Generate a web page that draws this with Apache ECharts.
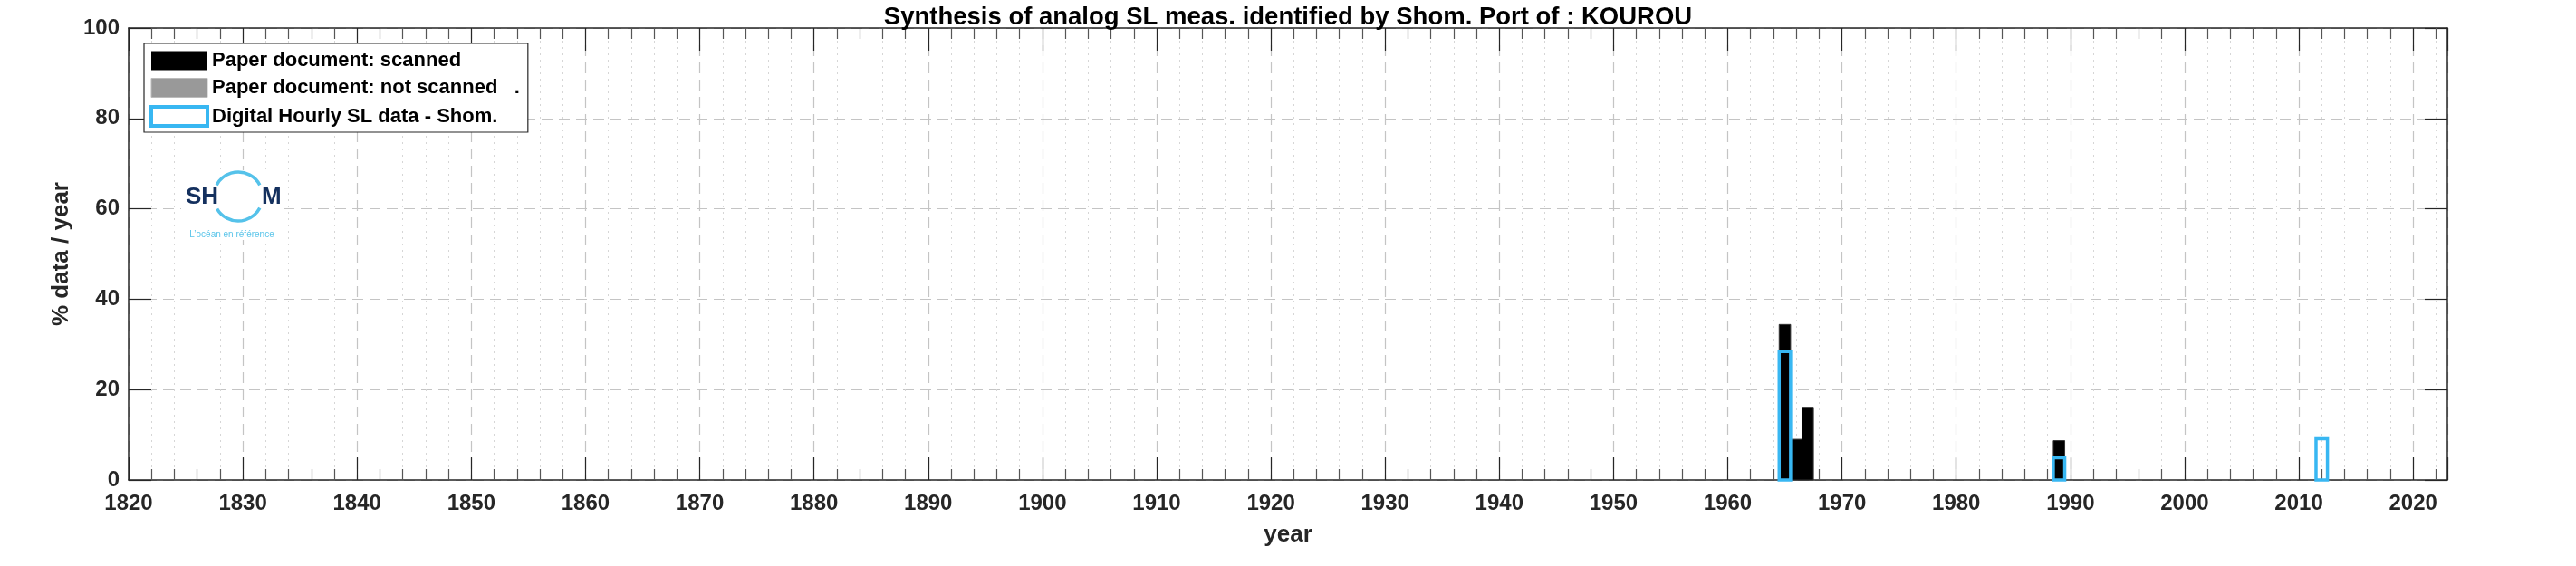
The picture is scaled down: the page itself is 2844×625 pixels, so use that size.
<!DOCTYPE html>
<html>
<head>
<meta charset="utf-8">
<script src="https://cdn.jsdelivr.net/npm/echarts@6/dist/echarts.min.js"></script>
<style>
html,body{margin:0;padding:0;background:#fff;}
#chart{width:2844px;height:625px;}
</style>
</head>
<body>
<div id="chart"></div>
<script>
// ---- data ----
const titleText = 'Synthesis of analog SL meas. identified by Shom. Port of : KOUROU';
const seriesNames = ['Paper document: scanned', 'Paper document: not scanned   .', 'Digital Hourly SL data - Shom.'];
const scannedYears = [1965, 1966, 1967, 1989];
const scannedValues = [34.4, 9.0, 16.1, 8.7];
const notScannedYears = [];
const notScannedValues = [];
const digitalYears = [1965, 1989, 2012];
const digitalValues = [28.4, 4.9, 9.1];
const xRange = [1820, 2023];
const xTickStep = 10;
const yRange = [0, 100];
const yTickStep = 20;

const pairs = (xs, ys) => xs.map((x, i) => [x, ys[i]]);

const FONT = '"Liberation Sans", Arial, sans-serif';
const TXT = '#262626';
const BLUE = '#38b7f2';

function barRender(kind) {
  return function (params, api) {
    const x = api.value(0), v = api.value(1);
    const p0 = api.coord([x - 0.5, v]);
    const p1 = api.coord([x + 0.5, 0]);
    let style;
    if (kind === 'scanned') style = { fill: '#000', stroke: '#333', lineWidth: 1 };
    else if (kind === 'notscanned') style = { fill: '#999', stroke: '#bbb', lineWidth: 1 };
    else style = { fill: 'none', stroke: BLUE, lineWidth: 3.5 };
    return {
      type: 'rect',
      shape: { x: p0[0], y: p0[1], width: p1[0] - p0[0], height: p1[1] - p0[1] },
      style: style
    };
  };
}

const xCommon = {
  type: 'value', min: xRange[0], max: xRange[1], interval: xTickStep,
  axisLine: { show: true, onZero: false, lineStyle: { color: TXT, width: 1.5 } },
  axisTick: { show: true, inside: true, length: 25, lineStyle: { color: TXT, width: 1.2 } },
  minorTick: { show: true, splitNumber: 5, length: 12, lineStyle: { color: '#555', width: 1.2 } }
};
const yCommon = {
  type: 'value', min: yRange[0], max: yRange[1], interval: yTickStep,
  axisLine: { show: true, onZero: false, lineStyle: { color: TXT, width: 1.5 } },
  axisTick: { show: true, inside: true, length: 25, lineStyle: { color: TXT, width: 1.2 } }
};

const option = {
  animation: false,
  backgroundColor: '#fff',
  title: {
    text: titleText, left: 'center', top: 0,
    textStyle: { fontFamily: FONT, fontSize: 27.5, fontWeight: 'bold', color: '#000' }
  },
  grid: { left: 142, right: 142, top: 31, bottom: 95, containLabel: false },
  xAxis: [
    Object.assign({}, xCommon, {
      position: 'bottom',
      name: 'year', nameLocation: 'middle', nameGap: 48,
      nameTextStyle: { fontFamily: FONT, fontSize: 26, fontWeight: 'bold', color: TXT },
      axisLabel: {
        show: true, margin: 14, showMaxLabel: false,
        fontFamily: FONT, fontSize: 24, fontWeight: 'bold', color: TXT,
        formatter: v => (v % xTickStep === 0 ? String(v) : '')
      },
      splitLine: { show: true, lineStyle: { color: '#c4c4c4', width: 1.2, type: [12, 7] } },
      minorSplitLine: { show: true, lineStyle: { color: '#d6d6d6', width: 1, type: [2, 5] } }
    }),
    Object.assign({}, xCommon, {
      position: 'top',
      axisLabel: { show: false },
      splitLine: { show: false }
    })
  ],
  yAxis: [
    Object.assign({}, yCommon, {
      position: 'left',
      name: '% data / year', nameLocation: 'middle', nameGap: 61, nameRotate: 90,
      nameTextStyle: { fontFamily: FONT, fontSize: 26, fontWeight: 'bold', color: TXT },
      axisLabel: { show: true, margin: 10, fontFamily: FONT, fontSize: 24, fontWeight: 'bold', color: TXT },
      splitLine: { show: true, lineStyle: { color: '#c4c4c4', width: 1.2, type: [12, 7] } }
    }),
    Object.assign({}, yCommon, {
      position: 'right',
      axisLabel: { show: false },
      splitLine: { show: false }
    })
  ],
  legend: {
    orient: 'vertical', left: 159, top: 48,
    backgroundColor: '#fff', borderColor: TXT, borderWidth: 1.2,
    padding: [8, 9, 5, 6], itemGap: 8,
    itemWidth: 62, itemHeight: 21, icon: 'rect',
    selectedMode: false,
    textStyle: { fontFamily: FONT, fontSize: 22, fontWeight: 'bold', color: '#000' },
    data: [
      { name: seriesNames[0], itemStyle: { color: '#000', borderColor: '#000', borderWidth: 0 } },
      { name: seriesNames[1], itemStyle: { color: '#999', borderColor: '#bbb', borderWidth: 1 } },
      { name: seriesNames[2], itemStyle: { color: '#fff', borderColor: BLUE, borderWidth: 4 } }
    ]
  },
  graphic: [
    { type: 'rect', shape: { x: 200, y: 188, width: 112, height: 77 }, style: { fill: '#fff' }, z: 50 },
    { type: 'arc', shape: { cx: 263, cy: 217, r: 27, startAngle: -152 * Math.PI / 180, endAngle: -28 * Math.PI / 180, clockwise: true },
      style: { stroke: '#55c2ea', lineWidth: 3.5, fill: 'none' }, z: 51 },
    { type: 'arc', shape: { cx: 263, cy: 217, r: 27, startAngle: 28 * Math.PI / 180, endAngle: 150 * Math.PI / 180, clockwise: true },
      style: { stroke: '#55c2ea', lineWidth: 3.5, fill: 'none' }, z: 51 },
    { type: 'text', style: { text: 'SH', x: 205, y: 218, font: 'bold 26px ' + FONT, fill: '#14305e', verticalAlign: 'middle', textVerticalAlign: 'middle' }, z: 52 },
    { type: 'text', style: { text: 'M', x: 289, y: 218, font: 'bold 26px ' + FONT, fill: '#14305e', verticalAlign: 'middle', textVerticalAlign: 'middle' }, z: 52 },
    { type: 'text', style: { text: 'L\u2019océan en référence', x: 256, y: 259, font: '10px ' + FONT, fill: '#5bc5ea', align: 'center', textAlign: 'center', verticalAlign: 'middle', textVerticalAlign: 'middle' }, z: 52 }
  ],
  series: [
    { name: seriesNames[0], type: 'custom', xAxisIndex: 0, yAxisIndex: 0, itemStyle: { color: '#000' },
      renderItem: barRender('scanned'), data: pairs(scannedYears, scannedValues), z: 3 },
    { name: seriesNames[1], type: 'custom', xAxisIndex: 0, yAxisIndex: 0, itemStyle: { color: '#999' },
      renderItem: barRender('notscanned'), data: pairs(notScannedYears, notScannedValues), z: 3 },
    { name: seriesNames[2], type: 'custom', xAxisIndex: 0, yAxisIndex: 0, itemStyle: { color: BLUE },
      renderItem: barRender('digital'), data: pairs(digitalYears, digitalValues), z: 4 }
  ]
};

const chart = echarts.init(document.getElementById('chart'), null, { renderer: 'canvas' });
chart.setOption(option);
</script>
</body>
</html>
